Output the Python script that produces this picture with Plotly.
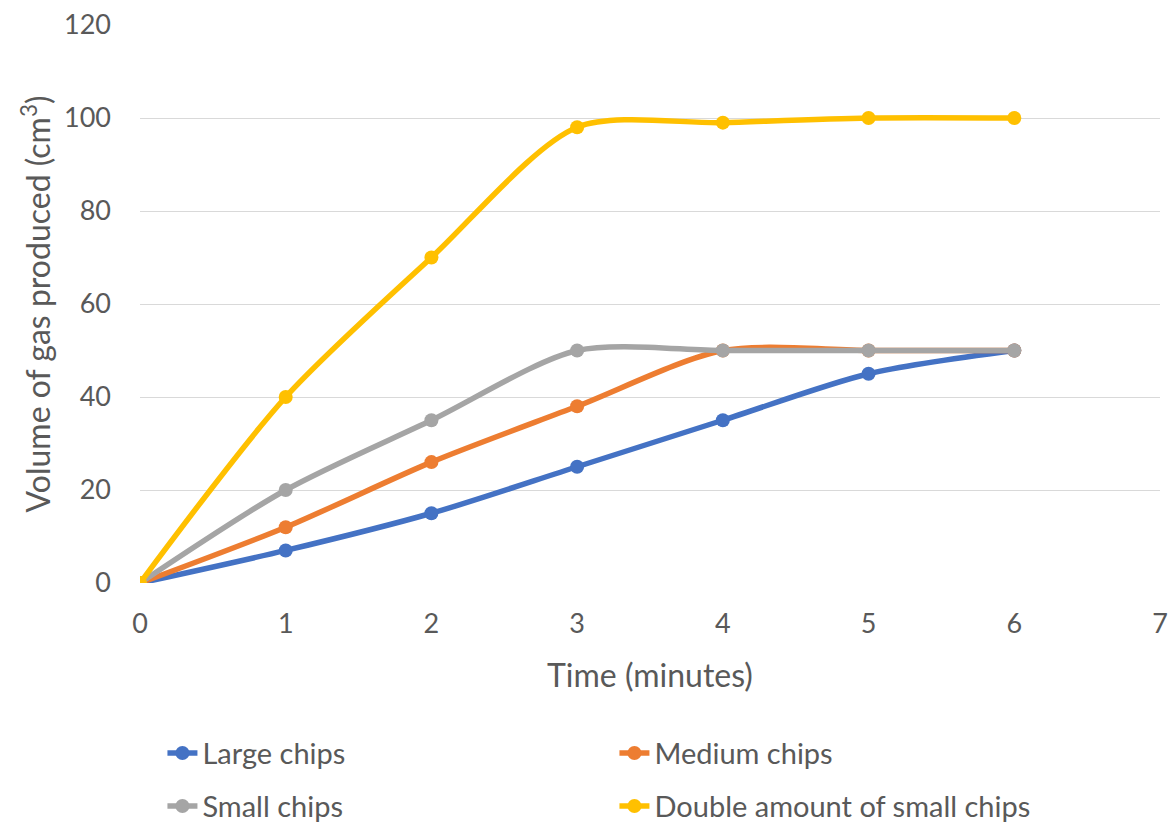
import plotly.graph_objects as go

minutes = [0, 1, 2, 3, 4, 5, 6]
large_chips = [0, 7, 15, 25, 35, 45, 50]
medium_chips = [0, 12, 26, 38, 50, 50, 50]
small_chips = [0, 20, 35, 50, 50, 50, 50]
double_small_chips = [0, 40, 70, 98, 99, 100, 100]

series = [
    ("Large chips", large_chips, "#4472C4", "legend"),
    ("Medium chips", medium_chips, "#ED7D31", "legend"),
    ("Small chips", small_chips, "#A5A5A5", "legend2"),
    ("Double amount of small chips", double_small_chips, "#FFC000", "legend2"),
]

FONT = "Lato"
TEXT = "#595959"

fig = go.Figure()
for name, ys, color, lg in series:
    fig.add_trace(go.Scatter(
        x=minutes, y=ys, name=name, mode="lines+markers",
        line=dict(color=color, width=5.5, shape="spline", smoothing=0.8),
        marker=dict(color=color, size=14),
        legend=lg,
    ))

legend_common = dict(
    orientation="h", xanchor="left", yanchor="middle",
    font=dict(family=FONT, size=29, color=TEXT),
    entrywidth=407, entrywidthmode="pixels",
    bgcolor="rgba(0,0,0,0)",
)

fig.update_layout(
    width=1168, height=823,
    margin=dict(l=140, r=8, t=25, b=240, autoexpand=False),
    paper_bgcolor="white", plot_bgcolor="white",
    font=dict(family=FONT, color=TEXT),
    showlegend=True,
    legend=dict(x=0.022, y=-0.305, **legend_common),
    legend2=dict(x=0.022, y=-0.40, **legend_common),
    xaxis=dict(
        range=[0, 7], dtick=1, tick0=0, showgrid=False, zeroline=False,
        showline=False, ticks="", tickfont=dict(size=27, color=TEXT),
        title=dict(text="Time (minutes)", font=dict(size=32, color=TEXT), standoff=26),
        ticklabelstandoff=22, automargin=False,
    ),
    yaxis=dict(
        range=[0, 120], dtick=20, showgrid=True, gridcolor="#D9D9D9", gridwidth=1.3,
        zeroline=False, showline=False, ticks="", tickfont=dict(size=27, color=TEXT),
        title=dict(text="Volume of gas produced (cm<sup>3</sup>)", font=dict(size=32, color=TEXT), standoff=3),
        ticklabelstandoff=28, automargin=False,
    ),
)

fig.write_html("out.html")
